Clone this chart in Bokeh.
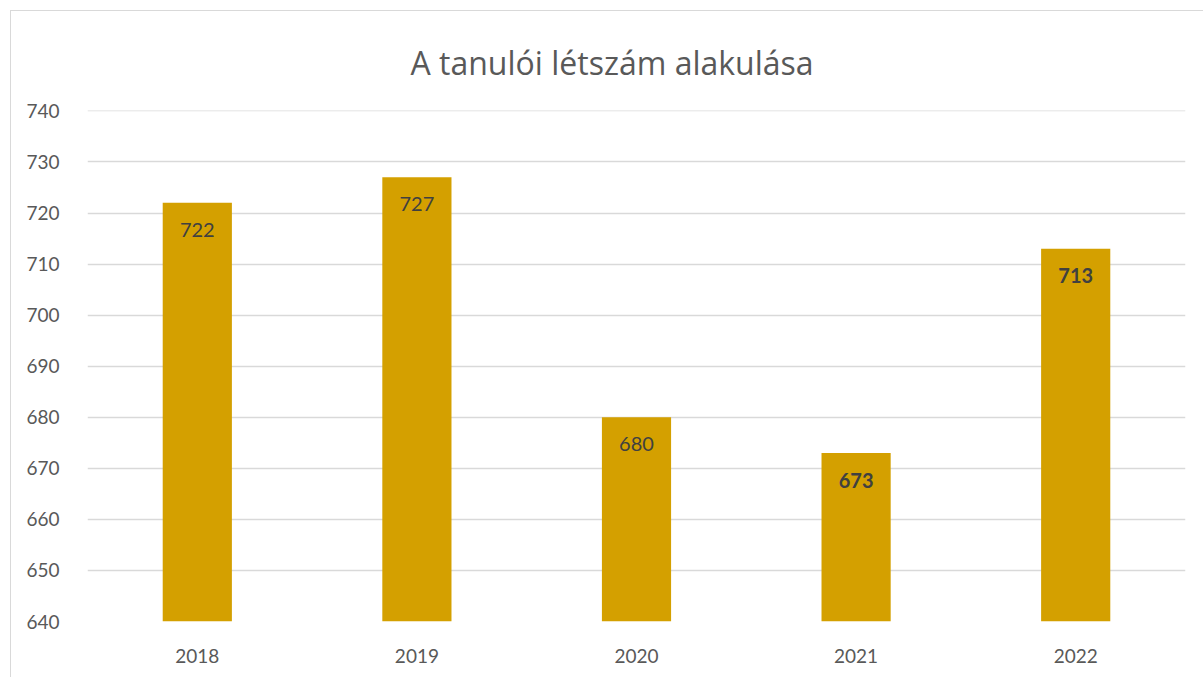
from bokeh.plotting import figure
from bokeh.models import ColumnDataSource
from bokeh.core.properties import value
from bokeh.embed import file_html
from bokeh.resources import INLINE

years = ["2018", "2019", "2020", "2021", "2022"]
counts = [722, 727, 680, 673, 713]
y_ticks = [640, 650, 660, 670, 680, 690, 700, 710, 720, 730, 740]
title_text = "A tanulói létszám alakulása"

label_styles = ["normal", "normal", "normal", "bold", "bold"]

FONT = "Lato"

src = ColumnDataSource(dict(
    year=years,
    count=counts,
    label=[str(v) for v in counts],
    style=label_styles,
    base=[y_ticks[0]] * len(years),
))

p = figure(
    width=1193, height=667,
    x_range=years, y_range=(y_ticks[0], y_ticks[-1] + 0.08),
    output_backend="svg", toolbar_location=None,
    min_border_left=76, min_border_right=19,
    min_border_top=98, min_border_bottom=57,
    margin=(10, 0, 0, 10),
    styles={"border-left": "1.5px solid #D9D9D9", "border-top": "1.5px solid #D9D9D9"},
)
p.outline_line_color = None
p.background_fill_color = "white"
p.border_fill_color = "white"

p.title.text = title_text
p.title.align = "left"
p.title.offset = 323
p.title.text_font = "Open Sans"
p.title.text_font_size = "32px"
p.title.text_font_style = "normal"
p.title.text_color = "#595959"
p.title.standoff = 54

p.vbar(x="year", top="count", bottom="base", width=0.315, source=src,
       fill_color="#D4A000", line_color=None)

p.text(x="year", y="count", text="label", source=src,
       text_font=value(FONT), text_font_size="20px", text_font_style="style",
       text_color="#404040", text_align="center", text_baseline="middle",
       y_offset=27)

p.yaxis.ticker = y_ticks
p.yaxis.axis_line_color = None
p.yaxis.major_tick_line_color = None
p.yaxis.minor_tick_line_color = None
p.yaxis.major_label_text_font = FONT
p.yaxis.major_label_text_font_size = "19px"
p.yaxis.major_label_text_color = "#595959"
p.yaxis.major_label_standoff = 22

p.xaxis.axis_line_color = None
p.xaxis.major_tick_line_color = None
p.xaxis.major_label_text_font = FONT
p.xaxis.major_label_text_font_size = "19px"
p.xaxis.major_label_text_color = "#595959"
p.xaxis.major_label_standoff = 21

p.xgrid.grid_line_color = None
p.ygrid.grid_line_color = "#D9D9D9"
p.ygrid.grid_line_width = 1.5

open("out.html", "w").write(file_html(p, INLINE))
